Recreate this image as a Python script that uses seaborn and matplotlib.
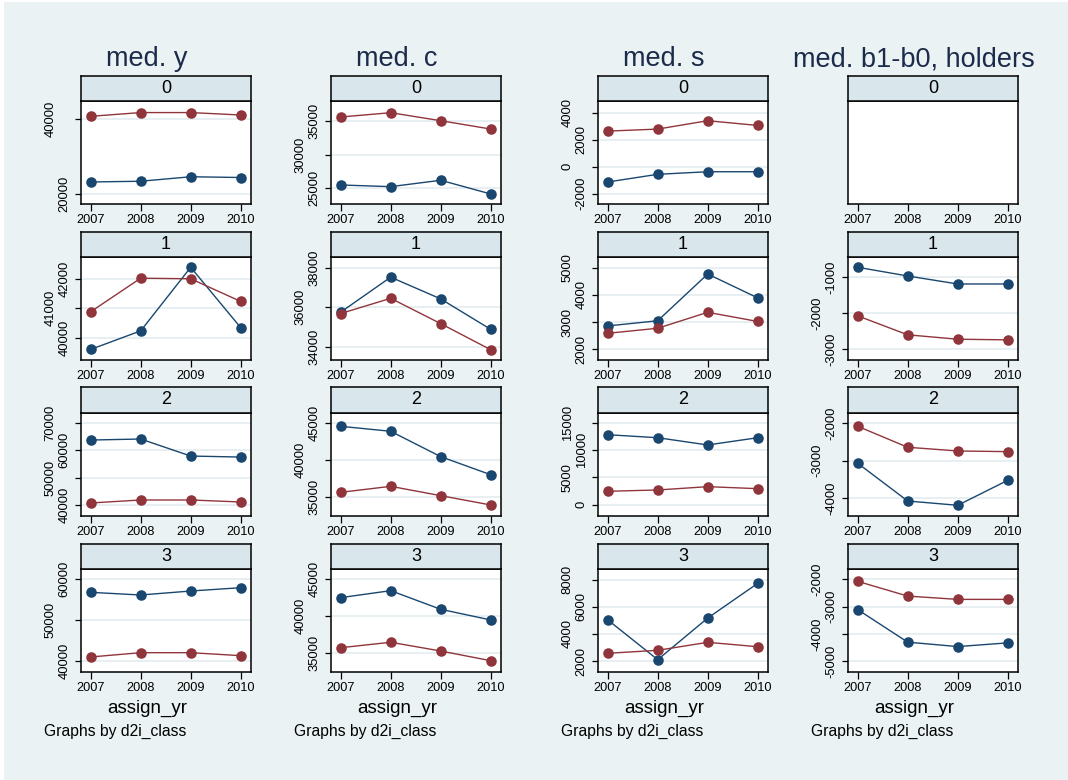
import matplotlib
matplotlib.use("Agg")
import matplotlib.pyplot as plt
import seaborn as sns
import pandas as pd
from matplotlib.patches import Rectangle

# ---------------- data ----------------
years = [2007, 2008, 2009, 2010]
col_titles = ["med. y", "med. c", "med. s", "med. b1-b0, holders"]
class_labels = ["0", "1", "2", "3"]
x_label = "assign_yr"
note_text = "Graphs by d2i_class"

# med. y  (blue = navy series, red = maroon series), by d2i_class 0..3
y_blue = [
    [23200, 23400, 24600, 24400],
    [39600, 40230, 42390, 40340],
    [63770, 64140, 57910, 57540],
    [56810, 56150, 57130, 57940],
]
y_red = [
    [40800, 41800, 41800, 41150],
    [40880, 42020, 42000, 41230],
    [40730, 41830, 41830, 41100],
    [40980, 42030, 42030, 41300],
]
# med. c
c_blue = [
    [25490, 25240, 26190, 24150],
    [35750, 37520, 36420, 34880],
    [44550, 43880, 40450, 38010],
    [42500, 43450, 40910, 39460],
]
c_red = [
    [35600, 36240, 35050, 33810],
    [35680, 36450, 35170, 33850],
    [35630, 36440, 35180, 33920],
    [35680, 36420, 35230, 33910],
]
# med. s
s_blue = [
    [-1130, -560, -370, -370],
    [2860, 3050, 4765, 3890],
    [12850, 12300, 10970, 12300],
    [5040, 2100, 5170, 7730],
]
s_red = [
    [2640, 2790, 3410, 3060],
    [2590, 2775, 3360, 3025],
    [2460, 2700, 3310, 2940],
    [2570, 2790, 3380, 3055],
]
# med. b1-b0, holders  (class 0 has no data)
b_blue = [
    None,
    [-722, -964, -1186, -1186],
    [-3069, -4072, -4186, -3523],
    [-3110, -4305, -4467, -4331],
]
b_red = [
    None,
    [-2072, -2600, -2722, -2740],
    [-2088, -2645, -2743, -2761],
    [-2074, -2614, -2735, -2735],
]

y_ticks = [
    [[20000, 40000], [40000, 41000, 42000], [40000, 50000, 60000, 70000], [40000, 50000, 60000]],
    [[25000, 30000, 35000], [34000, 36000, 38000], [35000, 40000, 45000], [35000, 40000, 45000]],
    [[-2000, 0, 2000, 4000], [2000, 3000, 4000, 5000], [0, 5000, 10000, 15000], [2000, 4000, 6000, 8000]],
    [[], [-3000, -2000, -1000], [-4000, -3000, -2000], [-5000, -4000, -3000, -2000]],
]
y_limits = [
    [(17300, 44900), (39240, 42740), (35970, 73660), (37300, 62520)],
    [(22660, 37980), (33330, 38540), (32430, 46350), (32370, 46400)],
    [(-2760, 4870), (1610, 5390), (-2080, 16840), (1190, 8790)],
    [(0, 1), (-3300, -436), (-4470, -1735), (-5400, -1620)],
]

all_blue = [y_blue, c_blue, s_blue, b_blue]
all_red = [y_red, c_red, s_red, b_red]

# ---------------- style ----------------
sns.set_style("white")
plt.rcParams["font.family"] = ["Liberation Sans", "DejaVu Sans"]

NAVY = "#1A476F"
MAROON = "#90353B"
BG = "#EAF2F3"
STRIP = "#D9E6EB"
TITLE_C = "#1C2B4B"

W, H = 1068, 780
fig = plt.figure(figsize=(W / 100, H / 100), dpi=100, facecolor="white")
fig.patches.append(Rectangle((4 / W, 0), 1, 1 - 2 / H, transform=fig.transFigure,
                             facecolor=BG, edgecolor="none", zorder=-10))

col_left = [81, 331, 598, 848]
col_w = 170
strip_top = [76, 232, 387, 544]
strip_bot = [101, 257, 413, 569]
plot_bot = [204, 360, 516, 672]


def fx(px):
    return px / W


def fy(py):
    return 1 - py / H


for c in range(4):
    L = col_left[c]
    for r in range(4):
        # plot area
        ax = fig.add_axes([fx(L), fy(plot_bot[r]), col_w / W, (plot_bot[r] - strip_bot[r]) / H])
        ax.set_facecolor("white")
        blue = all_blue[c][r]
        red = all_red[c][r]
        if blue is not None:
            df = pd.DataFrame({
                "year": years * 2,
                "value": list(blue) + list(red),
                "series": ["blue"] * 4 + ["red"] * 4,
            })
            sns.lineplot(data=df, x="year", y="value", hue="series",
                         hue_order=["blue", "red"], palette=[NAVY, MAROON],
                         marker="o", markersize=7.6, markeredgewidth=0,
                         linewidth=1.0, errorbar=None, legend=False, ax=ax, zorder=3)
        ax.set_xlim(2006.806, 2010.206)
        ax.set_ylim(*y_limits[c][r])
        ax.set_xticks(years)
        ax.set_xticklabels([str(y) for y in years])
        ax.set_yticks(y_ticks[c][r])
        ax.set_yticklabels([str(t) for t in y_ticks[c][r]])
        for t in y_ticks[c][r]:
            ax.axhline(t, color="#E6EEF1", lw=1.3, zorder=1)
        ax.set_xlabel("")
        ax.set_ylabel("")
        ax.tick_params(axis="x", direction="out", length=5, width=0.9, pad=2.5,
                       labelsize=9.2, colors="black", bottom=True)
        ax.tick_params(axis="y", direction="out", length=4.5, width=0.9,
                       labelsize=9.4, colors="black", left=True, labelrotation=90)
        for lab in ax.get_yticklabels():
            lab.set_va("center")
        for i, tk in enumerate(ax.yaxis.get_major_ticks()):
            tk.set_pad(3.0 if i % 2 == 0 else 13.0)
        for sp in ax.spines.values():
            sp.set_visible(True)
            sp.set_color("black")
            sp.set_linewidth(1.1)
        ax.grid(False)

        # strip
        sax = fig.add_axes([fx(L), fy(strip_bot[r]), col_w / W, (strip_bot[r] - strip_top[r]) / H])
        sax.set_facecolor(STRIP)
        sax.set_xticks([])
        sax.set_yticks([])
        for sp in sax.spines.values():
            sp.set_visible(True)
            sp.set_color("black")
            sp.set_linewidth(1.1)
        sax.text(0.5, 0.5, class_labels[r], ha="center", va="center",
                 fontsize=13, color="black", transform=sax.transAxes)

    cx = L + col_w / 2 - 19
    fig.text(fx(cx), fy(66), col_titles[c], ha="center", va="baseline",
             fontsize=19.5, color=TITLE_C)
    fig.text(fx(cx), fy(713), x_label, ha="center", va="baseline",
             fontsize=13.5, color="black")
    fig.text(fx(L - 37), fy(736), note_text, ha="left", va="baseline",
             fontsize=11.3, color="black")

fig.savefig("out.png", dpi=100, facecolor=fig.get_facecolor())
